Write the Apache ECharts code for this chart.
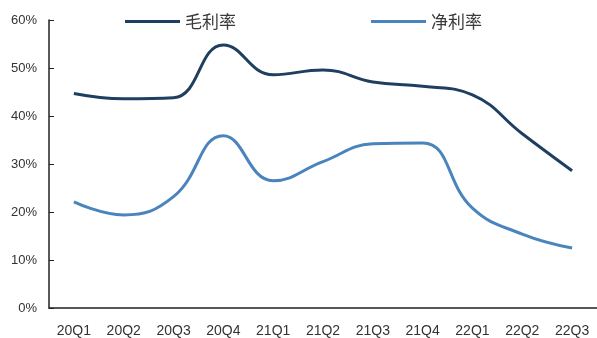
<!DOCTYPE html>
<html><head><meta charset="utf-8">
<script src="https://cdn.jsdelivr.net/npm/echarts@6/dist/echarts.min.js"></script>
<style>html,body{margin:0;padding:0;background:#fff}#c{width:597px;height:338px}</style>
</head><body><div id="c"></div>
<script>
const categories = ['20Q1','20Q2','20Q3','20Q4','21Q1','21Q2','21Q3','21Q4','22Q1','22Q2','22Q3'];
const grossMargin = [44.7, 43.6, 43.8, 54.8, 48.6, 49.6, 47.1, 46.2, 44.4, 36.3, 28.6];
const netMargin = [22.1, 19.4, 23.2, 35.9, 26.5, 30.5, 34.2, 34.4, 20.8, 15.4, 12.5];
const yTicks = [0, 10, 20, 30, 40, 50, 60];

const chart = echarts.init(document.getElementById('c'));
const font = '"Liberation Sans", Arial, sans-serif';
chart.setOption({
  animation: false,
  legend: {
    top: 8, left: 120, itemGap: 135, itemWidth: 55, itemHeight: 14,
    textStyle: { fontSize: 17, color: '#3a3a3a', fontFamily: '"Noto Sans CJK SC", sans-serif' },
    icon: 'path://M0,6L55,6L55,9L0,9Z',
    data: ['毛利率', '净利率']
  },
  grid: { left: 49, right: 0, top: 20, bottom: 29 },
  xAxis: {
    type: 'category', data: categories, boundaryGap: true,
    axisLine: { lineStyle: { color: '#222', width: 1.5 } },
    axisTick: { inside: true, length: 5, lineStyle: { color: '#222' } },
    axisLabel: { fontSize: 14, color: '#333', margin: 16, fontFamily: font }
  },
  yAxis: {
    type: 'value', min: yTicks[0], max: yTicks[yTicks.length - 1], interval: 10,
    axisLine: { show: true, lineStyle: { color: '#222', width: 1.5 } },
    axisTick: { show: true, inside: true, length: 5, lineStyle: { color: '#222' } },
    splitLine: { show: false },
    axisLabel: { fontSize: 13, color: '#333', margin: 12, fontFamily: font, formatter: v => v + '%' }
  },
  series: [
    { name: '毛利率', type: 'line', data: grossMargin, smooth: 0.45, symbol: 'none',
      itemStyle: { color: '#1f3f60' }, lineStyle: { color: '#1f3f60', width: 3 } },
    { name: '净利率', type: 'line', data: netMargin, smooth: 0.45, symbol: 'none',
      itemStyle: { color: '#4a84bc' }, lineStyle: { color: '#4a84bc', width: 3 } }
  ]
});
</script></body></html>
